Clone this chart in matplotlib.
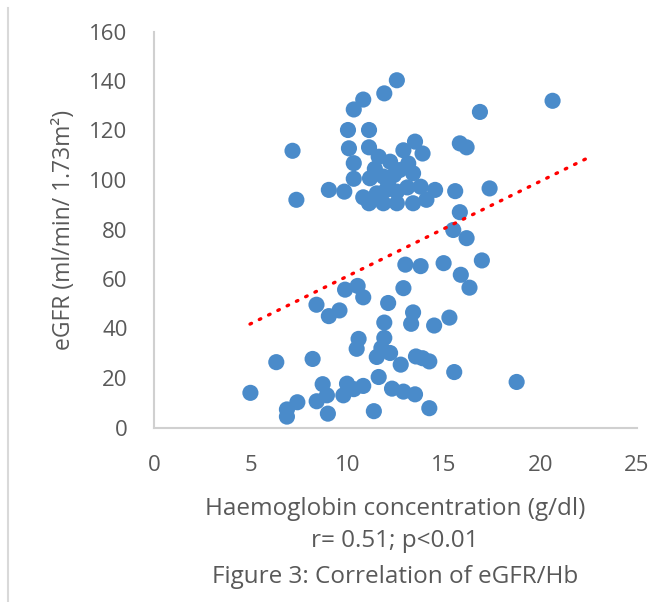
import numpy as np
import matplotlib
matplotlib.use("Agg")
import matplotlib.pyplot as plt
from matplotlib.lines import Line2D

# --- data ---
hb = [7.17, 7.37, 9.05, 9.85, 10.34, 10.83, 11.92, 12.57, 10.04, 11.13,
      10.09, 11.13, 10.34, 11.63, 12.22, 10.34, 11.18, 11.87, 12.42, 11.13,
      11.87, 12.57, 13.41, 14.10, 14.55, 13.80, 11.53, 12.57, 15.59, 15.83,
      12.91, 13.51, 13.90, 13.16, 13.41, 15.83, 16.18, 16.87, 20.63, 17.37,
      15.49, 16.18, 11.43, 12.12, 13.11, 10.83, 12.71, 12.02,
      4.99, 6.33, 6.88, 6.88, 7.42, 8.21, 8.41, 8.42, 8.73, 8.95,
      9.00, 9.05, 9.60, 9.80, 9.99, 10.34, 9.89, 10.54, 10.83, 10.83,
      10.59, 10.49, 11.38, 11.63, 12.12, 11.92, 11.92, 11.77, 11.53, 12.22,
      12.77, 12.32, 12.91, 13.51, 14.25, 12.91, 13.01, 13.80, 14.99, 15.88,
      16.33, 16.97, 13.41, 13.31, 14.50, 15.29, 13.56, 13.90, 14.25, 15.54,
      18.77]
egfr = [111.8, 92.0, 96.0, 95.3, 128.5, 132.5, 135.0, 140.3, 120.2, 120.2,
        112.8, 113.2, 106.8, 109.4, 107.4, 100.5, 100.7, 101.4, 102.0, 90.6,
        90.6, 90.6, 90.6, 92.0, 96.0, 97.3, 94.6, 95.3, 95.5, 87.0,
        112.0, 115.5, 110.7, 106.7, 102.7, 114.8, 113.2, 127.5, 132.0, 96.6,
        79.8, 76.5, 104.5, 99.0, 97.0, 93.0, 104.0, 96.0,
        14.0, 26.4, 7.3, 4.4, 10.2, 27.7, 49.6, 10.6, 17.5, 13.0,
        5.6, 45.0, 47.3, 13.0, 17.7, 15.5, 55.7, 57.2, 52.6, 16.8,
        35.8, 31.8, 6.6, 20.4, 50.3, 42.4, 36.2, 32.1, 28.5, 30.1,
        25.4, 15.7, 14.5, 13.4, 7.8, 56.3, 65.8, 65.2, 66.4, 61.7,
        56.5, 67.5, 46.5, 41.9, 41.2, 44.4, 28.7, 28.0, 26.7, 22.4,
        18.4]
x_ticks = [0, 5, 10, 15, 20, 25]
y_ticks = [0, 20, 40, 60, 80, 100, 120, 140, 160]
# linear trendline as drawn in the reference (slope, intercept, x-range)
trend_slope = 3.84
trend_intercept = 22.7
trend_x = [4.97, 22.57]

FONT = ["Open Sans", "DejaVu Sans"]
GREY = "#595959"

fig = plt.figure(figsize=(6.54, 6.02), dpi=100)
ax = fig.add_axes([154 / 654, 1 - 427.5 / 602, 483 / 654, 396 / 602])

x = np.array(hb)
y = np.array(egfr)
ax.scatter(x, y, s=135, color="#4A8BCA", edgecolors="none", zorder=3)

xt = np.array(trend_x)
ax.plot(xt, trend_slope * xt + trend_intercept, color="#FF0000", lw=2.4,
        linestyle=(0, (0.5, 2.6)), dash_capstyle="round", zorder=4)

ax.set_xlim(0, 25)
ax.set_ylim(0, 160)
ax.set_xticks(x_ticks)
ax.set_yticks(y_ticks)
ax.set_xticklabels([str(t) for t in x_ticks], family=FONT, fontsize=16, color=GREY)
ax.set_yticklabels([str(t) for t in y_ticks], family=FONT, fontsize=16, color=GREY)
ax.tick_params(axis="x", length=0, pad=20)
ax.tick_params(axis="y", length=0, pad=19)
for s in ["top", "right"]:
    ax.spines[s].set_visible(False)
for s in ["left", "bottom"]:
    ax.spines[s].set_color("#D0D0D0")
    ax.spines[s].set_linewidth(1.5)

ax.set_ylabel("eGFR (ml/min/ 1.73m²)", family=FONT, fontsize=16.5, color=GREY)
ax.yaxis.set_label_coords((76 - 154) / 483, 0.5)

cx = 395 / 654
fig.text(cx, 1 - 509 / 602, "Haemoglobin concentration (g/dl)", family=FONT,
         fontsize=17.5, color=GREY, ha="center", va="center")
fig.text(cx, 1 - 541 / 602, "r= 0.51; p<0.01", family=FONT,
         fontsize=17.5, color=GREY, ha="center", va="center")
fig.text(cx, 1 - 577 / 602, "Figure 3: Correlation of eGFR/Hb", family=FONT,
         fontsize=17.5, color=GREY, ha="center", va="center")

fig.add_artist(Line2D([8 / 654, 8 / 654], [0, 1 - 8 / 602], color="#D9D9D9", lw=1.5))

fig.savefig("out.png", dpi=100)
